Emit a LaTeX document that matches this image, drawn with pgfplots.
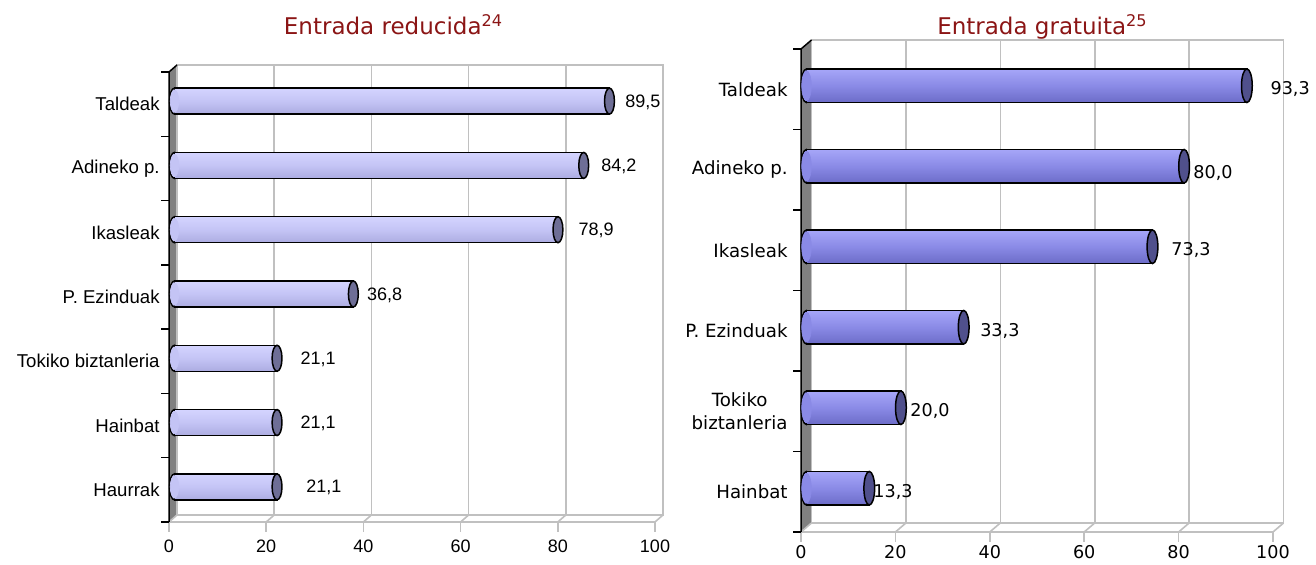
\documentclass[border=0pt]{standalone}
\usepackage{pgfplots}
\pgfplotsset{compat=1.18}
\usepackage{fontspec}
\setmainfont{Liberation Sans}
\newfontfamily\dejavu{DejaVu Sans}
\definecolor{titlered}{RGB}{139,21,21}
\definecolor{gridgray}{RGB}{192,192,192}
\definecolor{wallgray}{RGB}{128,128,128}
\definecolor{lbtop}{RGB}{212,212,255}
\definecolor{lbmid}{RGB}{196,196,245}
\definecolor{lbbot}{RGB}{172,172,225}
\definecolor{lcapc}{RGB}{110,110,150}
\definecolor{rbtop}{RGB}{166,166,248}
\definecolor{rbmid}{RGB}{138,138,230}
\definecolor{rbbot}{RGB}{108,108,200}
\definecolor{rcapc}{RGB}{80,80,140}
\pgfplotsset{
  leftgeom/.style={at={(84.5pt,21.5pt)}, anchor=south west,
    scale only axis, width=243pt, height=225pt,
    xmin=0, xmax=100, ymin=0.5, ymax=7.5, clip=false},
  rightgeom/.style={at={(400.5pt,16.5pt)}, anchor=south west,
    scale only axis, width=236pt, height=241.5pt,
    xmin=0, xmax=100, ymin=0.5, ymax=6.5, clip=false},
  lbarsty/.style={xbar, bar width=13pt, bar shift=0pt, xshift=2.75pt, yshift=1.5pt,
    draw=black, line width=0.75pt, top color=lbtop, bottom color=lbbot, middle color=lbmid},
  lcapsty/.style={only marks, mark=*, mark size=6.5pt, xshift=2.75pt, yshift=1.5pt,
    mark options={xscale=0.38, draw=black, fill=lcapc, line width=0.75pt}},
  lstartsty/.style={only marks, mark=*, mark size=6.5pt, xshift=2.75pt, yshift=1.5pt,
    mark options={xscale=0.38, draw=black, fill=lbmid, line width=0.75pt}},
  lcoversty/.style={only marks, mark=*, mark size=5.6pt, xshift=2.75pt, yshift=1.5pt,
    color=lbmid, mark options={xscale=0.38, draw=lbmid, fill=lbmid, line width=0.3pt}},
  rbarsty/.style={xbar, bar width=16.75pt, bar shift=0pt, xshift=2.75pt, yshift=1.75pt,
    draw=black, line width=0.75pt, top color=rbtop, bottom color=rbbot, middle color=rbmid},
  rcapsty/.style={only marks, mark=*, mark size=8.4pt, xshift=2.75pt, yshift=1.75pt,
    mark options={xscale=0.32, draw=black, fill=rcapc, line width=0.75pt}},
  rstartsty/.style={only marks, mark=*, mark size=8.4pt, xshift=2.75pt, yshift=1.75pt,
    mark options={xscale=0.32, draw=black, fill=rbmid, line width=0.75pt}},
  rcoversty/.style={only marks, mark=*, mark size=7.5pt, xshift=2.75pt, yshift=1.75pt,
    color=rbmid, mark options={xscale=0.32, draw=rbmid, fill=rbmid, line width=0.3pt}},
}
\begin{document}
\begin{tikzpicture}
\useasboundingbox (0,0) rectangle (658pt,282.5pt);
% titles
\node[font=\dejavu\fontsize{11.5}{14}\selectfont, text=titlered, anchor=base] at (196.75pt,265pt) {Entrada reducida\textsuperscript{24}};
\node[font=\dejavu\fontsize{11.5}{14}\selectfont, text=titlered, anchor=base] at (521.25pt,265pt) {Entrada gratuita\textsuperscript{25}};

% ---------------- left chart: background ----------------
\begin{axis}[
  leftgeom,
  axis line style={draw=none},
  major tick length=0pt, tick style={draw=none},
  xtick={0,20,...,100},
  ytick={1,...,7},
  yticklabels={Haurrak,Hainbat,Tokiko biztanleria,P. Ezinduak,Ikasleak,Adineko p.,Taldeak},
  /pgf/number format/assume math mode=true,
  xticklabel style={font=\fontsize{9}{11}\selectfont, anchor=center, inner sep=0pt, yshift=-12pt},
  yticklabel style={font=\fontsize{9.3}{11}\selectfont, anchor=east, inner sep=0pt, xshift=-4.5pt},
]
\fill[wallgray] (axis cs:0,0.5) -- (axis cs:0,7.5) -- ([shift={(4pt,3.5pt)}]axis cs:0,7.5) -- ([shift={(4pt,3.5pt)}]axis cs:0,0.5) -- cycle;
\draw[gridgray, line width=0.8pt] ([shift={(4pt,3.5pt)}]axis cs:0,7.5) rectangle ([shift={(4pt,3.5pt)}]axis cs:100,0.5);
\pgfplotsinvokeforeach{20,40,60,80}{
  \draw[gridgray, line width=0.8pt] ([shift={(4pt,3.5pt)}]axis cs:#1,0.5) -- ([shift={(4pt,3.5pt)}]axis cs:#1,7.5);
}
\draw[gridgray, line width=0.8pt] (axis cs:0,0.5) -- (axis cs:100,0.5);
\pgfplotsinvokeforeach{0,20,40,60,80,100}{
  \draw[gridgray, line width=0.8pt] (axis cs:#1,0.5) -- ([shift={(4pt,3.5pt)}]axis cs:#1,0.5);
  \draw[gridgray, line width=0.8pt] (axis cs:#1,0.5) -- ([shift={(0pt,-5pt)}]axis cs:#1,0.5);
}
\draw[black, line width=0.75pt] (axis cs:0,0.5) -- (axis cs:0,7.5) -- ([shift={(4pt,3.5pt)}]axis cs:0,7.5);
\pgfplotsinvokeforeach{0.5,1.5,2.5,3.5,4.5,5.5,6.5,7.5}{
  \draw[black, line width=0.75pt] (axis cs:0,#1) -- ([shift={(-4pt,0pt)}]axis cs:0,#1);
}
\addplot[lstartsty] coordinates {(0,7) (0,6) (0,5) (0,4) (0,3) (0,2) (0,1)};
\end{axis}

% ---------------- left chart: bars ----------------
\begin{axis}[leftgeom, hide axis]
\addplot[lbarsty] coordinates {(89.5,7)};
\addplot[lbarsty] coordinates {(84.2,6)};
\addplot[lbarsty] coordinates {(78.9,5)};
\addplot[lbarsty] coordinates {(36.8,4)};
\addplot[lbarsty] coordinates {(21.1,3)};
\addplot[lbarsty] coordinates {(21.1,2)};
\addplot[lbarsty] coordinates {(21.1,1)};
\addplot[lcoversty] coordinates {(0,7) (0,6) (0,5) (0,4) (0,3) (0,2) (0,1)};
\addplot[lcapsty] coordinates {(89.5,7) (84.2,6) (78.9,5) (36.8,4) (21.1,3) (21.1,2) (21.1,1)};
\begin{scope}[every node/.style={anchor=west, inner sep=0pt, font=\fontsize{9}{11}\selectfont, yshift=1pt}]
\node at (axis cs:93.8,7) {89,5};
\node at (axis cs:88.9,6) {84,2};
\node at (axis cs:84.2,5) {78,9};
\node at (axis cs:40.7,4) {36,8};
\node at (axis cs:27.0,3) {21,1};
\node at (axis cs:27.0,2) {21,1};
\node at (axis cs:28.2,1) {21,1};
\end{scope}
\end{axis}

% ---------------- right chart: background ----------------
\begin{axis}[
  rightgeom,
  axis line style={draw=none},
  major tick length=0pt, tick style={draw=none},
  xtick={0,20,...,100},
  ytick={1,...,6},
  yticklabels={Hainbat,{Tokiko\\biztanleria},P. Ezinduak,Ikasleak,Adineko p.,Taldeak},
  /pgf/number format/assume math mode=true,
  xticklabel style={font=\dejavu\fontsize{8.8}{11}\selectfont, anchor=center, inner sep=0pt, yshift=-10pt},
  yticklabel style={font=\dejavu\fontsize{9.1}{11.5}\selectfont, anchor=east, inner sep=0pt, xshift=-6.5pt, align=center},
]
\fill[wallgray] (axis cs:0,0.5) -- (axis cs:0,6.5) -- ([shift={(5.25pt,4.5pt)}]axis cs:0,6.5) -- ([shift={(5.25pt,4.5pt)}]axis cs:0,0.5) -- cycle;
\draw[gridgray, line width=0.8pt] ([shift={(5.25pt,4.5pt)}]axis cs:0,6.5) rectangle ([shift={(5.25pt,4.5pt)}]axis cs:100,0.5);
\pgfplotsinvokeforeach{20,40,60,80}{
  \draw[gridgray, line width=0.8pt] ([shift={(5.25pt,4.5pt)}]axis cs:#1,0.5) -- ([shift={(5.25pt,4.5pt)}]axis cs:#1,6.5);
}
\draw[gridgray, line width=0.8pt] (axis cs:0,0.5) -- (axis cs:100,0.5);
\pgfplotsinvokeforeach{0,20,40,60,80,100}{
  \draw[gridgray, line width=0.8pt] (axis cs:#1,0.5) -- ([shift={(5.25pt,4.5pt)}]axis cs:#1,0.5);
  \draw[gridgray, line width=0.8pt] (axis cs:#1,0.5) -- ([shift={(0pt,-5pt)}]axis cs:#1,0.5);
}
\draw[black, line width=0.75pt] (axis cs:0,0.5) -- (axis cs:0,6.5) -- ([shift={(5.25pt,4.5pt)}]axis cs:0,6.5);
\pgfplotsinvokeforeach{0.5,1.5,2.5,3.5,4.5,5.5,6.5}{
  \draw[black, line width=0.75pt] (axis cs:0,#1) -- ([shift={(-4pt,0pt)}]axis cs:0,#1);
}
\addplot[rstartsty] coordinates {(0,6) (0,5) (0,4) (0,3) (0,2) (0,1)};
\end{axis}

% ---------------- right chart: bars ----------------
\begin{axis}[rightgeom, hide axis]
\addplot[rbarsty] coordinates {(93.3,6)};
\addplot[rbarsty] coordinates {(80.0,5)};
\addplot[rbarsty] coordinates {(73.3,4)};
\addplot[rbarsty] coordinates {(33.3,3)};
\addplot[rbarsty] coordinates {(20.0,2)};
\addplot[rbarsty] coordinates {(13.3,1)};
\addplot[rcoversty] coordinates {(0,6) (0,5) (0,4) (0,3) (0,2) (0,1)};
\addplot[rcapsty] coordinates {(93.3,6) (80.0,5) (73.3,4) (33.3,3) (20.0,2) (13.3,1)};
\begin{scope}[every node/.style={anchor=west, inner sep=0pt, font=\dejavu\fontsize{8.8}{11}\selectfont}]
\node at (axis cs:99.4,6) {93,3};
\node[yshift=-1.75pt] at (axis cs:83.05,5) {80,0};
\node at (axis cs:78.4,4) {73,3};
\node at (axis cs:37.9,3) {33,3};
\node at (axis cs:23.1,2) {20,0};
\node at (axis cs:15.25,1) {13,3};
\end{scope}
\end{axis}
\end{tikzpicture}
\end{document}
